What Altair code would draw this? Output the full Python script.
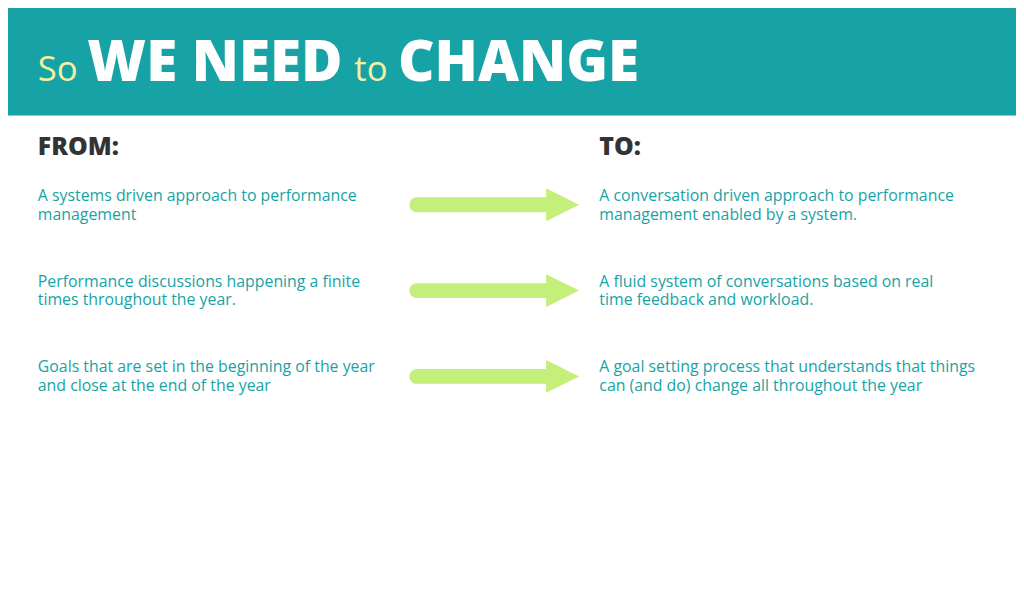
import altair as alt
import pandas as pd

W, H = 1016, 588
FONT = "Open Sans"
TEAL = "#17a3a5"
GREEN = "#c4ef7b"

title_words = ["So", "WE NEED", "to", "CHANGE"]
title_bold = [False, True, False, True]
title_x = [38, 88, 357, 401]

from_lines = [
    ["A systems driven approach to performance", "management"],
    ["Performance discussions happening a finite", "times throughout the year."],
    ["Goals that are set in the beginning of the year", "and close at the end of the year"],
]
to_lines = [
    ["A conversation driven approach to performance", "management enabled by a system."],
    ["A fluid system of conversations based on real", "time feedback and workload."],
    ["A goal setting process that understands that things", "can (and do) change all throughout the year"],
]

# layout: the view is mapped 1:1 to page pixels (8px page margin removed)
xs = alt.Scale(domain=[8, 8 + W], range=[0, W])
ys = alt.Scale(domain=[8, 8 + H], range=[0, H])
X = lambda f: alt.X(f, type="quantitative", scale=xs, axis=None)
Y = lambda f: alt.Y(f, type="quantitative", scale=ys, axis=None)

header = alt.Chart(pd.DataFrame({"x": [0], "x2": [1024], "y": [0], "y2": [114]})).mark_rect(
    color=TEAL).encode(x=X("x"), x2="x2", y=Y("y"), y2="y2")

tdf = pd.DataFrame({"t": title_words, "x": title_x, "y": [79] * 4})
t_bold = alt.Chart(tdf[[b for b in title_bold]]).mark_text(
    align="left", baseline="alphabetic", font=FONT, fontSize=57, fontWeight=800, color="white"
).encode(x=X("x"), y=Y("y"), text="t")
t_thin = alt.Chart(tdf[[not b for b in title_bold]]).mark_text(
    align="left", baseline="alphabetic", font=FONT, fontSize=35, color="#f2f0a2"
).encode(x=X("x"), y=Y("y"), text="t")

heads = alt.Chart(pd.DataFrame({"t": ["FROM:", "TO:"], "x": [38, 604], "y": [146, 146]})).mark_text(
    align="left", baseline="middle", font=FONT, fontSize=25, fontWeight=800, color="#333333"
).encode(x=X("x"), y=Y("y"), text="t")

rows = []
for col, x0, block in [(0, 38, from_lines), (1, 604, to_lines)]:
    for i, lines in enumerate(block):
        for j, s in enumerate(lines):
            rows.append({"t": s, "x": x0, "y": 195 + 86.5 * i + 19 * j})
body = alt.Chart(pd.DataFrame(rows)).mark_text(
    align="left", baseline="middle", font=FONT, fontSize=16, color=TEAL
).encode(x=X("x"), y=Y("y"), text="t")

adf = pd.DataFrame({"x": [420] * 3, "x2": [556] * 3, "hx": [567] * 3,
                    "y": [204 + 86.5 * i for i in range(3)]})
shaft = alt.Chart(adf).mark_rule(color=GREEN, strokeWidth=15, strokeCap="round").encode(
    x=X("x"), x2="x2", y=Y("y"))
head = alt.Chart(adf).mark_point(
    shape="M-1,-1L1,0L-1,1Z", size=1100, filled=True, opacity=1, color=GREEN
).encode(x=X("hx"), y=Y("y"))

chart = alt.layer(header, t_bold, t_thin, heads, body, shaft, head).properties(
    width=W, height=H, padding=0, autosize=alt.AutoSizeParams(type="none")
).configure_view(stroke=None)

chart.save("out.html", embed_options={"renderer": "svg", "actions": False})
